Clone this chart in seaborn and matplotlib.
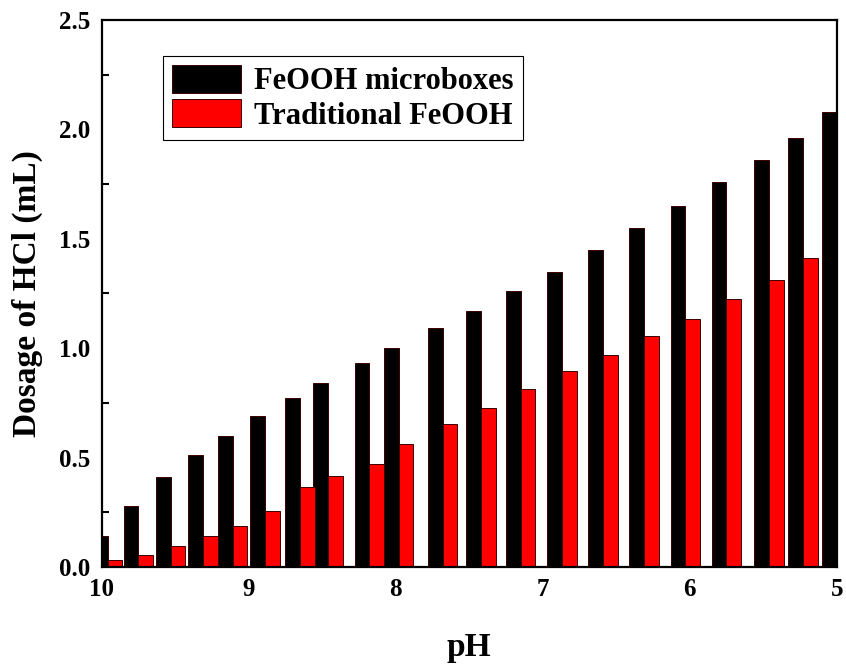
import numpy as np
import pandas as pd
import matplotlib
matplotlib.use("Agg")
import matplotlib.pyplot as plt
from matplotlib.patches import Patch
from matplotlib.ticker import MultipleLocator
import seaborn as sns

# ---- data ----
ph = [9.96, 9.75, 9.53, 9.31, 9.11, 8.89, 8.65, 8.46, 8.18, 7.98, 7.68,
      7.42, 7.15, 6.87, 6.59, 6.31, 6.03, 5.75, 5.46, 5.23, 5.00]
microboxes = [0.14, 0.28, 0.41, 0.51, 0.60, 0.69, 0.77, 0.84, 0.93, 1.00, 1.09,
              1.17, 1.26, 1.35, 1.45, 1.55, 1.65, 1.76, 1.86, 1.96, 2.08]
traditional = [0.03, 0.055, 0.095, 0.14, 0.185, 0.255, 0.365, 0.415, 0.47, 0.56, 0.655,
               0.725, 0.815, 0.895, 0.97, 1.055, 1.135, 1.225, 1.31, 1.41, np.nan]
series_names = ["FeOOH microboxes", "Traditional FeOOH"]
series_colors = ["#000000", "#ff0000"]
x_ticks = [10, 9, 8, 7, 6, 5]
y_ticks = [0.0, 0.5, 1.0, 1.5, 2.0, 2.5]

# ---- layout ----
bar_w = 0.1  # width of a single bar in pH units
ph_arr = np.array(ph)
df = pd.concat([
    pd.DataFrame({"x": ph_arr + bar_w / 2, "y": microboxes, "s": series_names[0]}),
    pd.DataFrame({"x": ph_arr - bar_w / 2, "y": traditional, "s": series_names[1]}),
]).dropna()

uniq = np.unique(df["x"].values)
native_min = np.min(np.diff(uniq))

sns.set_style("white")
plt.rcParams["font.family"] = ["Liberation Serif", "DejaVu Serif"]
plt.rcParams["font.weight"] = "bold"
plt.rcParams["text.color"] = "black"
plt.rcParams["axes.labelcolor"] = "black"
plt.rcParams["xtick.color"] = "black"
plt.rcParams["ytick.color"] = "black"

fig = plt.figure(figsize=(8.46, 6.65), dpi=100)
ax = fig.add_axes([0.1202, 0.1474, 0.8688, 0.8226])

palette = dict(zip(series_names, series_colors))
sns.barplot(data=df, x="x", y="y", hue="s", palette=palette, native_scale=True,
            dodge=False, width=bar_w / native_min, saturation=1, errorbar=None,
            edgecolor="#3a0000", linewidth=0.7, legend=False, ax=ax)

ax.set_xlim(10, 5)
ax.set_ylim(0, 2.5)
ax.set_xticks(x_ticks)
ax.set_xticklabels([str(t) for t in x_ticks])
ax.set_yticks(y_ticks)
ax.set_yticklabels([f"{t:.1f}" for t in y_ticks])
ax.yaxis.set_minor_locator(MultipleLocator(0.25))
ax.set_axisbelow(True)

ax.tick_params(axis="both", which="both", direction="in", top=False, right=False,
               width=1.5, labelsize=18, colors="black")
ax.tick_params(axis="both", which="major", length=8, pad=8)
ax.tick_params(axis="y", which="minor", length=5, left=True)
ax.tick_params(axis="x", which="minor", bottom=False)
for lab in ax.get_xticklabels() + ax.get_yticklabels():
    lab.set_fontweight("bold")
    lab.set_color("black")

for sp in ax.spines.values():
    sp.set_linewidth(1.6)
    sp.set_color("black")
    sp.set_visible(True)

ax.set_xlabel("pH", fontsize=24, fontweight="bold", labelpad=22, color="black")
ax.set_ylabel("Dosage of HCl (mL)", fontsize=24, fontweight="bold", labelpad=12, color="black")

handles = [Patch(facecolor=c, edgecolor="#3a0000", linewidth=0.7) for c in series_colors]
leg = ax.legend(handles, series_names, loc="upper left", bbox_to_anchor=(0.083, 0.934),
                borderaxespad=0, frameon=True, fancybox=False, framealpha=1,
                edgecolor="black", handlelength=2.25, handleheight=1.0,
                labelspacing=0.1, handletextpad=0.45, borderpad=0.3,
                prop={"weight": "bold", "size": 22})
leg.get_frame().set_linewidth(0.8)
for t in leg.get_texts():
    t.set_color("black")

fig.savefig("out.png", dpi=100)
